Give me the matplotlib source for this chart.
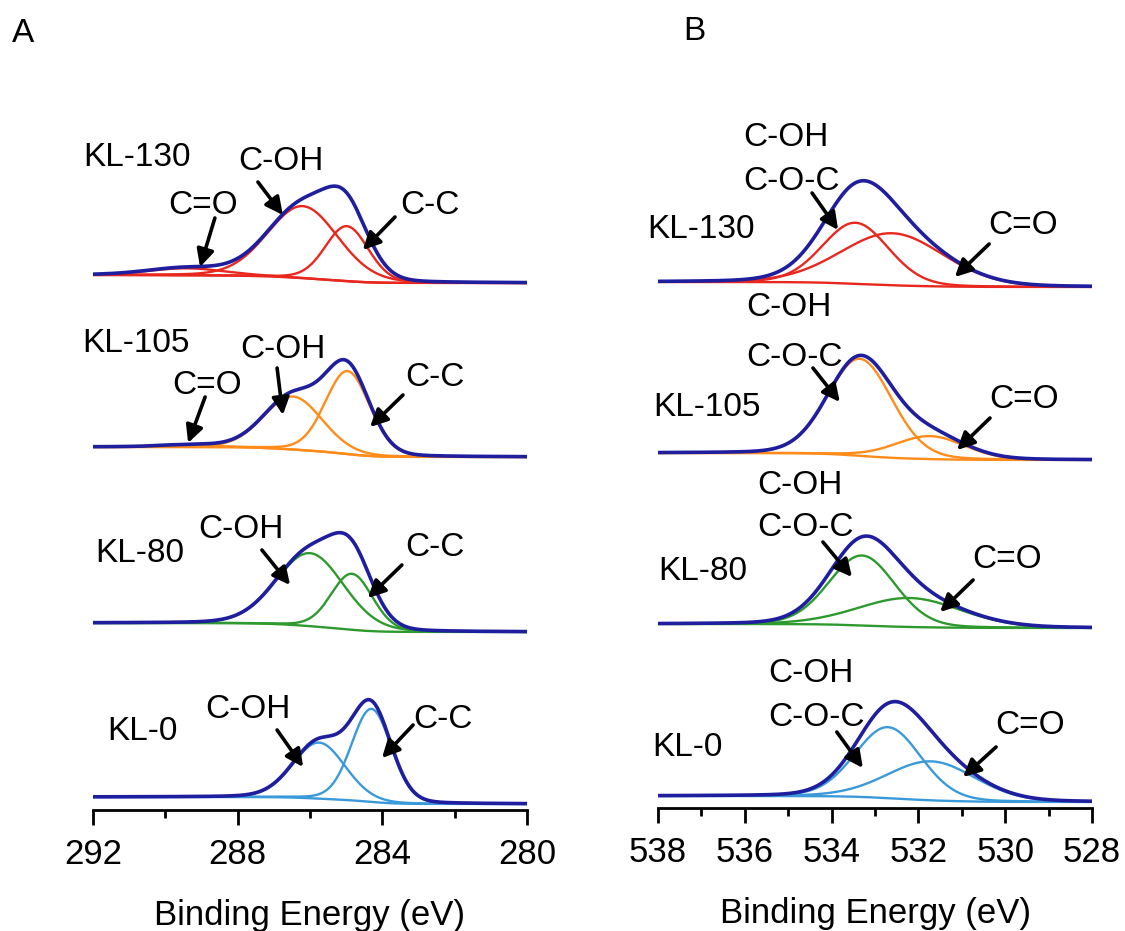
import numpy as np
import matplotlib.pyplot as plt
from matplotlib.ticker import MultipleLocator

plt.rcParams['font.family'] = ['Liberation Sans', 'DejaVu Sans']

# sample names, bottom to top
samples = ["KL-0", "KL-80", "KL-105", "KL-130"]
fit_colors = ["#3a9ad9", "#2e9a2e", "#ff8c1a", "#e8281e"]
envelope_color = "#1e1e9e"

# C 1s fitted components: centre (eV), height (a.u.), FWHM (eV)
c1s_cc_center = [284.30, 284.84, 284.96, 284.98]
c1s_cc_height = [93, 56, 83, 55]
c1s_cc_fwhm = [1.30, 1.35, 1.45, 1.40]
c1s_coh_center = [285.75, 286.00, 286.47, 286.20]
c1s_coh_height = [56, 73, 53, 72]
c1s_coh_fwhm = [1.70, 2.20, 1.90, 2.30]
c1s_co_center = [289.3, 289.3, 289.3, 289.4]
c1s_co_height = [0, 0, 2, 7]
c1s_co_fwhm = [1.8, 1.8, 1.8, 2.5]
c1s_step = [7, 9, 10, 8]

# O 1s fitted components
o1s_coc_center = [532.70, 533.30, 533.35, 533.45]
o1s_coc_height = [71, 70, 97, 61]
o1s_coc_fwhm = [1.80, 1.80, 1.75, 1.80]
o1s_co_center = [531.70, 532.20, 531.73, 532.60]
o1s_co_height = [39, 29, 23, 52]
o1s_co_fwhm = [2.40, 2.80, 1.90, 2.80]
o1s_step = [6, 4, 7, 5]

# vertical stacking offsets (layout only)
c1s_offset = [6, 178, 353, 527]
o1s_offset = [6, 180, 348, 521]


def peak(be, center, height, fwhm, eta=0.12):
    """Gaussian-Lorentzian line shape used by the fit."""
    g = np.exp(-4 * np.log(2) * ((be - center) / fwhm) ** 2)
    l = 1.0 / (1.0 + 4 * ((be - center) / fwhm) ** 2)
    return height * ((1 - eta) * g + eta * l)


def shirley(be, total, step):
    """Step background, higher on the high binding energy side (be ascending)."""
    area = np.cumsum(total)
    return step * area / area[-1]


def draw_spectrum(ax, be, comps, step, offset, color):
    total = np.sum(comps, axis=0)
    bg = shirley(be, total, step) + offset
    ax.plot(be, bg, color=color, lw=1.7, zorder=2)
    for comp in comps:
        if comp.max() > 0:
            ax.plot(be, bg + comp, color=color, lw=1.7, zorder=2)
    ax.plot(be, bg + total, color=envelope_color, lw=2.6, zorder=3)


def style_axis(ax, xlim, major, minor):
    ax.set_xlim(*xlim)
    ax.set_ylim(0, 750)
    for side in ("left", "right", "top"):
        ax.spines[side].set_visible(False)
    ax.spines["bottom"].set_linewidth(2.0)
    ax.set_yticks([])
    ax.xaxis.set_major_locator(MultipleLocator(major))
    ax.xaxis.set_minor_locator(MultipleLocator(minor))
    ax.tick_params(axis="x", which="major", direction="out", length=11, width=2.0,
                   labelsize=25, pad=9)
    ax.tick_params(axis="x", which="minor", direction="out", length=5.5, width=2.0)
    ax.set_xlabel("Binding Energy (eV)", fontsize=25, labelpad=20)


def annotate(ax, items):
    for text, pos, tail, head in items:
        ax.text(pos[0], pos[1], text, fontsize=24, ha="left", va="center", zorder=5)
        if tail is not None:
            ax.annotate("", xy=head, xytext=tail, zorder=6,
                        arrowprops=dict(arrowstyle="-|>", color="black", lw=2.6,
                                        mutation_scale=26, shrinkA=0, shrinkB=0))


fig = plt.figure(figsize=(11.25, 9.31), dpi=100)
ax_a = fig.add_axes([93 / 1125, 121 / 931, 434 / 1125, 750 / 931])
ax_b = fig.add_axes([658 / 1125, 123 / 931, 434 / 1125, 750 / 931])

# panel A: C 1s
be_c = np.linspace(280.0, 292.0, 900)
for i in range(len(samples)):
    comps = [peak(be_c, c1s_cc_center[i], c1s_cc_height[i], c1s_cc_fwhm[i]),
             peak(be_c, c1s_coh_center[i], c1s_coh_height[i], c1s_coh_fwhm[i]),
             peak(be_c, c1s_co_center[i], c1s_co_height[i], c1s_co_fwhm[i])]
    draw_spectrum(ax_a, be_c, comps, c1s_step[i], c1s_offset[i], fit_colors[i])
style_axis(ax_a, (292, 280), 4, 2)

annotate(ax_a, [
    ("KL-130", (292.28, 653), None, None),
    ("C-OH", (287.99, 648), (287.44, 628), (286.75, 595)),
    ("C=O", (289.93, 605), (288.63, 592), (289.04, 543)),
    ("C-C", (283.51, 605), (283.65, 593), (284.54, 560)),
    ("KL-105", (292.30, 467), None, None),
    ("C-OH", (287.94, 460), (286.91, 442), (286.75, 395)),
    ("C=O", (289.82, 425), (288.90, 413), (289.37, 367)),
    ("C-C", (283.37, 432), (283.43, 415), (284.34, 383)),
    ("KL-80", (291.94, 257), None, None),
    ("C-OH", (289.10, 280), (287.33, 260), (286.55, 225)),
    ("C-C", (283.37, 263), (283.46, 245), (284.40, 212)),
    ("KL-0", (291.61, 78), None, None),
    ("C-OH", (288.90, 101), (286.91, 80), (286.19, 43)),
    ("C-C", (283.15, 90), (283.15, 85), (284.01, 52)),
])

# panel B: O 1s
be_o = np.linspace(528.0, 538.0, 900)
for i in range(len(samples)):
    comps = [peak(be_o, o1s_coc_center[i], o1s_coc_height[i], o1s_coc_fwhm[i]),
             peak(be_o, o1s_co_center[i], o1s_co_height[i], o1s_co_fwhm[i])]
    draw_spectrum(ax_b, be_o, comps, o1s_step[i], o1s_offset[i], fit_colors[i])
style_axis(ax_b, (538, 528), 2, 1)

annotate(ax_b, [
    ("C-OH", (536.04, 671), None, None),
    ("C-O-C", (536.04, 626), (534.45, 615), (533.85, 578)),
    ("KL-130", (538.25, 578), None, None),
    ("C=O", (530.40, 582), (530.37, 564), (531.16, 531)),
    ("C-OH", (535.97, 500), None, None),
    ("C-O-C", (535.97, 451), (534.43, 440), (533.81, 406)),
    ("KL-105", (538.12, 400), None, None),
    ("C=O", (530.37, 408), (530.35, 390), (531.11, 358)),
    ("C-OH", (535.72, 323), None, None),
    ("C-O-C", (535.72, 280), (534.20, 266), (533.53, 231)),
    ("KL-80", (538.00, 236), None, None),
    ("C=O", (530.76, 248), (530.74, 228), (531.50, 196)),
    ("C-OH", (535.47, 135), None, None),
    ("C-O-C", (535.47, 90), (533.88, 76), (533.28, 40)),
    ("KL-0", (538.14, 60), None, None),
    ("C=O", (530.24, 82), (530.21, 61), (530.97, 31)),
])

fig.text(12 / 1125, 1 - 34 / 931, "A", fontsize=24, ha="left", va="center")
fig.text(683 / 1125, 1 - 32 / 931, "B", fontsize=24, ha="left", va="center")

fig.savefig("out.png", dpi=100)
